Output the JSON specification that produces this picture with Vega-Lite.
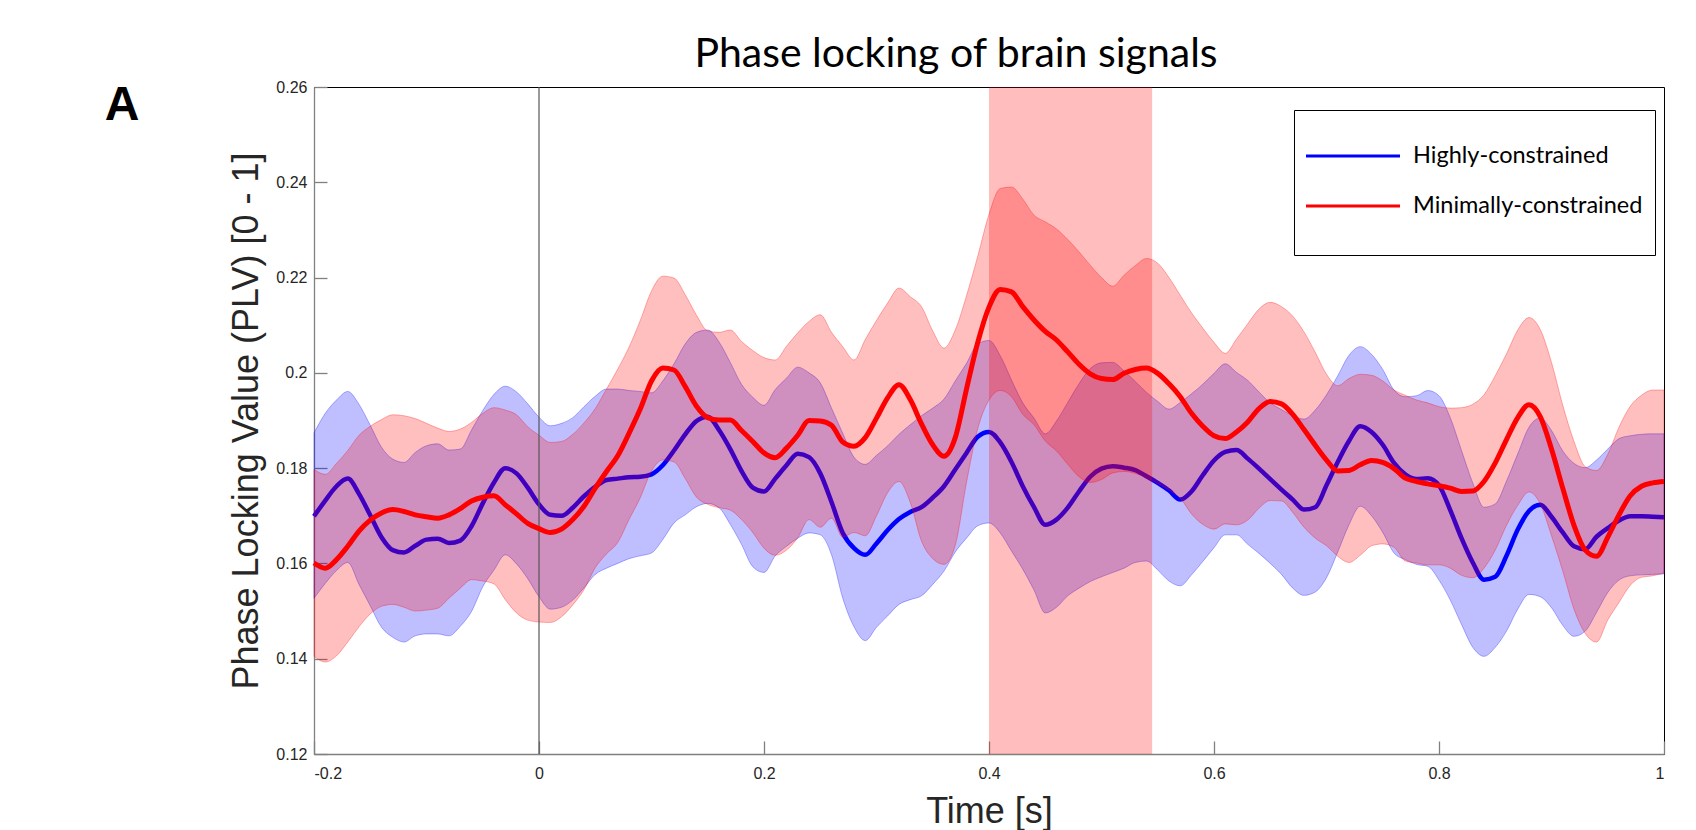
{
  "$schema": "https://vega.github.io/schema/vega-lite/v6.json",
  "width": 1350,
  "height": 667,
  "autosize": {"type": "none"},
  "padding": {"left": 314, "top": 87, "right": 32, "bottom": 76},
  "background": "#ffffff",
  "title": {
    "text": "Phase locking of brain signals",
    "font": "Lato",
    "fontSize": 41,
    "fontWeight": "normal",
    "color": "#000000",
    "anchor": "middle",
    "frame": "group",
    "baseline": "alphabetic",
    "offset": 11,
    "dx": -33,
    "dy": 40
  },
  "config": {
    "view": {"stroke": "#000000", "strokeWidth": 1},
    "axis": {
      "grid": false,
      "labelFont": "Liberation Sans",
      "labelFontSize": 16,
      "labelColor": "#262626",
      "titleFont": "Liberation Sans",
      "titleFontSize": 36,
      "titleFontWeight": "normal",
      "titleColor": "#262626",
      "domainColor": "#808080",
      "domainWidth": 1.3,
      "tickColor": "#808080",
      "tickWidth": 1.3,
      "tickSize": -13
    }
  },
  "datasets": {
    "curves": [
      {"t": -0.2, "hm": 0.1699, "hl": 0.1527, "hu": 0.1874, "mm": 0.1601, "ml": 0.1405, "mu": 0.1797},
      {"t": -0.19, "hm": 0.1732, "hl": 0.1558, "hu": 0.1915, "mm": 0.159, "ml": 0.1393, "mu": 0.1787},
      {"t": -0.18, "hm": 0.1762, "hl": 0.1585, "hu": 0.1943, "mm": 0.1608, "ml": 0.1406, "mu": 0.181},
      {"t": -0.17, "hm": 0.1778, "hl": 0.1602, "hu": 0.1961, "mm": 0.1636, "ml": 0.1435, "mu": 0.1837},
      {"t": -0.16, "hm": 0.1746, "hl": 0.1556, "hu": 0.1934, "mm": 0.1668, "ml": 0.1467, "mu": 0.1869},
      {"t": -0.15, "hm": 0.1701, "hl": 0.1511, "hu": 0.189, "mm": 0.1691, "ml": 0.1494, "mu": 0.1888},
      {"t": -0.14, "hm": 0.1655, "hl": 0.1466, "hu": 0.1844, "mm": 0.1706, "ml": 0.151, "mu": 0.1902},
      {"t": -0.13, "hm": 0.1628, "hl": 0.1445, "hu": 0.1819, "mm": 0.1713, "ml": 0.1514, "mu": 0.1912},
      {"t": -0.12, "hm": 0.1623, "hl": 0.1435, "hu": 0.1812, "mm": 0.1709, "ml": 0.1508, "mu": 0.191},
      {"t": -0.11, "hm": 0.1637, "hl": 0.1448, "hu": 0.1833, "mm": 0.1702, "ml": 0.15, "mu": 0.1904},
      {"t": -0.1, "hm": 0.165, "hl": 0.1452, "hu": 0.1847, "mm": 0.1698, "ml": 0.1502, "mu": 0.1894},
      {"t": -0.09, "hm": 0.1652, "hl": 0.1452, "hu": 0.1851, "mm": 0.1695, "ml": 0.1506, "mu": 0.1884},
      {"t": -0.08, "hm": 0.1643, "hl": 0.1448, "hu": 0.1838, "mm": 0.1702, "ml": 0.1527, "mu": 0.1877},
      {"t": -0.07, "hm": 0.1648, "hl": 0.1468, "hu": 0.184, "mm": 0.1715, "ml": 0.1548, "mu": 0.1882},
      {"t": -0.06, "hm": 0.1678, "hl": 0.1499, "hu": 0.188, "mm": 0.1731, "ml": 0.1566, "mu": 0.1896},
      {"t": -0.05, "hm": 0.1726, "hl": 0.1551, "hu": 0.1921, "mm": 0.1739, "ml": 0.1563, "mu": 0.1915},
      {"t": -0.04, "hm": 0.177, "hl": 0.1586, "hu": 0.1955, "mm": 0.1742, "ml": 0.1557, "mu": 0.1927},
      {"t": -0.03, "hm": 0.18, "hl": 0.1618, "hu": 0.1972, "mm": 0.1723, "ml": 0.1524, "mu": 0.1922},
      {"t": -0.02, "hm": 0.1789, "hl": 0.1599, "hu": 0.196, "mm": 0.1704, "ml": 0.1496, "mu": 0.1912},
      {"t": -0.01, "hm": 0.1759, "hl": 0.1568, "hu": 0.1935, "mm": 0.1684, "ml": 0.1481, "mu": 0.1887},
      {"t": 0.0, "hm": 0.1724, "hl": 0.153, "hu": 0.1907, "mm": 0.1673, "ml": 0.1477, "mu": 0.1869},
      {"t": 0.01, "hm": 0.1702, "hl": 0.1504, "hu": 0.1889, "mm": 0.1665, "ml": 0.1476, "mu": 0.1854},
      {"t": 0.02, "hm": 0.17, "hl": 0.1508, "hu": 0.1894, "mm": 0.1672, "ml": 0.1488, "mu": 0.1856},
      {"t": 0.03, "hm": 0.1717, "hl": 0.1523, "hu": 0.1906, "mm": 0.1692, "ml": 0.1513, "mu": 0.1871},
      {"t": 0.04, "hm": 0.1741, "hl": 0.1549, "hu": 0.1929, "mm": 0.172, "ml": 0.1545, "mu": 0.1895},
      {"t": 0.05, "hm": 0.1761, "hl": 0.1577, "hu": 0.1951, "mm": 0.1758, "ml": 0.1591, "mu": 0.1925},
      {"t": 0.06, "hm": 0.1775, "hl": 0.159, "hu": 0.1966, "mm": 0.1793, "ml": 0.162, "mu": 0.1966},
      {"t": 0.07, "hm": 0.1778, "hl": 0.16, "hu": 0.1966, "mm": 0.1826, "ml": 0.1644, "mu": 0.2008},
      {"t": 0.08, "hm": 0.1781, "hl": 0.161, "hu": 0.1963, "mm": 0.1873, "ml": 0.1692, "mu": 0.2054},
      {"t": 0.09, "hm": 0.1782, "hl": 0.1616, "hu": 0.1961, "mm": 0.1924, "ml": 0.1738, "mu": 0.211},
      {"t": 0.1, "hm": 0.1787, "hl": 0.1622, "hu": 0.1958, "mm": 0.1983, "ml": 0.1794, "mu": 0.2172},
      {"t": 0.11, "hm": 0.1806, "hl": 0.165, "hu": 0.1983, "mm": 0.201, "ml": 0.1817, "mu": 0.2203},
      {"t": 0.12, "hm": 0.1837, "hl": 0.1685, "hu": 0.2019, "mm": 0.2006, "ml": 0.1813, "mu": 0.2199},
      {"t": 0.13, "hm": 0.1871, "hl": 0.1702, "hu": 0.2061, "mm": 0.1971, "ml": 0.1778, "mu": 0.2164},
      {"t": 0.14, "hm": 0.1899, "hl": 0.1719, "hu": 0.2085, "mm": 0.193, "ml": 0.1739, "mu": 0.2121},
      {"t": 0.15, "hm": 0.1908, "hl": 0.1726, "hu": 0.209, "mm": 0.1906, "ml": 0.1724, "mu": 0.2088},
      {"t": 0.16, "hm": 0.188, "hl": 0.1717, "hu": 0.2065, "mm": 0.1901, "ml": 0.1717, "mu": 0.2085},
      {"t": 0.17, "hm": 0.184, "hl": 0.1682, "hu": 0.2022, "mm": 0.1901, "ml": 0.1712, "mu": 0.209},
      {"t": 0.18, "hm": 0.1794, "hl": 0.164, "hu": 0.1976, "mm": 0.1879, "ml": 0.1692, "mu": 0.2066},
      {"t": 0.19, "hm": 0.1759, "hl": 0.1593, "hu": 0.1949, "mm": 0.1856, "ml": 0.1665, "mu": 0.2047},
      {"t": 0.2, "hm": 0.1751, "hl": 0.1581, "hu": 0.1932, "mm": 0.1832, "ml": 0.1632, "mu": 0.2032},
      {"t": 0.21, "hm": 0.1778, "hl": 0.1616, "hu": 0.1965, "mm": 0.1822, "ml": 0.1617, "mu": 0.2027},
      {"t": 0.22, "hm": 0.1806, "hl": 0.1636, "hu": 0.1989, "mm": 0.1842, "ml": 0.1628, "mu": 0.2056},
      {"t": 0.23, "hm": 0.183, "hl": 0.1653, "hu": 0.2012, "mm": 0.1869, "ml": 0.1654, "mu": 0.2084},
      {"t": 0.24, "hm": 0.1823, "hl": 0.1664, "hu": 0.2, "mm": 0.19, "ml": 0.1692, "mu": 0.2108},
      {"t": 0.25, "hm": 0.1789, "hl": 0.166, "hu": 0.1979, "mm": 0.1899, "ml": 0.1676, "mu": 0.2122},
      {"t": 0.26, "hm": 0.1729, "hl": 0.1618, "hu": 0.1926, "mm": 0.189, "ml": 0.1695, "mu": 0.2085},
      {"t": 0.27, "hm": 0.1664, "hl": 0.1527, "hu": 0.1873, "mm": 0.1855, "ml": 0.1655, "mu": 0.2055},
      {"t": 0.28, "hm": 0.1632, "hl": 0.1467, "hu": 0.1823, "mm": 0.1846, "ml": 0.1665, "mu": 0.2027},
      {"t": 0.29, "hm": 0.1618, "hl": 0.1438, "hu": 0.1808, "mm": 0.1864, "ml": 0.1658, "mu": 0.207},
      {"t": 0.3, "hm": 0.1642, "hl": 0.1466, "hu": 0.1827, "mm": 0.1905, "ml": 0.17, "mu": 0.211},
      {"t": 0.31, "hm": 0.167, "hl": 0.149, "hu": 0.1847, "mm": 0.1948, "ml": 0.1749, "mu": 0.2147},
      {"t": 0.32, "hm": 0.1693, "hl": 0.1514, "hu": 0.1871, "mm": 0.1975, "ml": 0.1772, "mu": 0.2178},
      {"t": 0.33, "hm": 0.1708, "hl": 0.1524, "hu": 0.1891, "mm": 0.1944, "ml": 0.1728, "mu": 0.216},
      {"t": 0.34, "hm": 0.1718, "hl": 0.1532, "hu": 0.191, "mm": 0.1893, "ml": 0.1647, "mu": 0.2139},
      {"t": 0.35, "hm": 0.1738, "hl": 0.1556, "hu": 0.1926, "mm": 0.1849, "ml": 0.161, "mu": 0.2088},
      {"t": 0.36, "hm": 0.1762, "hl": 0.1584, "hu": 0.1945, "mm": 0.1825, "ml": 0.1598, "mu": 0.2052},
      {"t": 0.37, "hm": 0.1797, "hl": 0.1624, "hu": 0.1983, "mm": 0.1864, "ml": 0.1638, "mu": 0.209},
      {"t": 0.38, "hm": 0.1832, "hl": 0.1653, "hu": 0.202, "mm": 0.1966, "ml": 0.177, "mu": 0.2162},
      {"t": 0.39, "hm": 0.1866, "hl": 0.1679, "hu": 0.2061, "mm": 0.2064, "ml": 0.1883, "mu": 0.2245},
      {"t": 0.4, "hm": 0.1876, "hl": 0.1685, "hu": 0.2068, "mm": 0.2138, "ml": 0.1943, "mu": 0.2333},
      {"t": 0.41, "hm": 0.1854, "hl": 0.1664, "hu": 0.2036, "mm": 0.2175, "ml": 0.1963, "mu": 0.2387},
      {"t": 0.42, "hm": 0.1813, "hl": 0.1626, "hu": 0.1985, "mm": 0.217, "ml": 0.195, "mu": 0.239},
      {"t": 0.43, "hm": 0.1762, "hl": 0.1588, "hu": 0.1937, "mm": 0.2139, "ml": 0.1913, "mu": 0.2365},
      {"t": 0.44, "hm": 0.1718, "hl": 0.1544, "hu": 0.1905, "mm": 0.2111, "ml": 0.1891, "mu": 0.2331},
      {"t": 0.45, "hm": 0.1681, "hl": 0.1496, "hu": 0.1872, "mm": 0.2087, "ml": 0.1857, "mu": 0.2317},
      {"t": 0.46, "hm": 0.1692, "hl": 0.1508, "hu": 0.1899, "mm": 0.2069, "ml": 0.1836, "mu": 0.2302},
      {"t": 0.47, "hm": 0.1717, "hl": 0.1532, "hu": 0.1938, "mm": 0.2044, "ml": 0.1808, "mu": 0.228},
      {"t": 0.48, "hm": 0.1751, "hl": 0.1548, "hu": 0.1977, "mm": 0.2018, "ml": 0.1782, "mu": 0.2254},
      {"t": 0.49, "hm": 0.1782, "hl": 0.1562, "hu": 0.2009, "mm": 0.1998, "ml": 0.177, "mu": 0.2226},
      {"t": 0.5, "hm": 0.1799, "hl": 0.1572, "hu": 0.2021, "mm": 0.1988, "ml": 0.1776, "mu": 0.22},
      {"t": 0.51, "hm": 0.1804, "hl": 0.1581, "hu": 0.2022, "mm": 0.1986, "ml": 0.179, "mu": 0.2182},
      {"t": 0.52, "hm": 0.1801, "hl": 0.159, "hu": 0.2004, "mm": 0.1999, "ml": 0.1793, "mu": 0.2205},
      {"t": 0.53, "hm": 0.1796, "hl": 0.1602, "hu": 0.1982, "mm": 0.2007, "ml": 0.1789, "mu": 0.2225},
      {"t": 0.54, "hm": 0.1783, "hl": 0.1605, "hu": 0.1959, "mm": 0.201, "ml": 0.178, "mu": 0.224},
      {"t": 0.55, "hm": 0.1769, "hl": 0.1586, "hu": 0.194, "mm": 0.1999, "ml": 0.1768, "mu": 0.223},
      {"t": 0.56, "hm": 0.1753, "hl": 0.1563, "hu": 0.1924, "mm": 0.1977, "ml": 0.1754, "mu": 0.22},
      {"t": 0.57, "hm": 0.1734, "hl": 0.1553, "hu": 0.1938, "mm": 0.195, "ml": 0.1737, "mu": 0.2163},
      {"t": 0.58, "hm": 0.1751, "hl": 0.1576, "hu": 0.1956, "mm": 0.1915, "ml": 0.1704, "mu": 0.2126},
      {"t": 0.59, "hm": 0.1785, "hl": 0.1604, "hu": 0.1976, "mm": 0.1888, "ml": 0.1682, "mu": 0.2094},
      {"t": 0.6, "hm": 0.1816, "hl": 0.1633, "hu": 0.1999, "mm": 0.1868, "ml": 0.1672, "mu": 0.2064},
      {"t": 0.61, "hm": 0.1834, "hl": 0.166, "hu": 0.2019, "mm": 0.1862, "ml": 0.1683, "mu": 0.2041},
      {"t": 0.62, "hm": 0.1838, "hl": 0.166, "hu": 0.2001, "mm": 0.1876, "ml": 0.1681, "mu": 0.2071},
      {"t": 0.63, "hm": 0.182, "hl": 0.164, "hu": 0.1984, "mm": 0.1897, "ml": 0.1691, "mu": 0.2103},
      {"t": 0.64, "hm": 0.1799, "hl": 0.1621, "hu": 0.196, "mm": 0.1925, "ml": 0.1716, "mu": 0.2134},
      {"t": 0.65, "hm": 0.1777, "hl": 0.16, "hu": 0.1937, "mm": 0.194, "ml": 0.1732, "mu": 0.2148},
      {"t": 0.66, "hm": 0.1755, "hl": 0.1577, "hu": 0.1923, "mm": 0.1935, "ml": 0.1731, "mu": 0.2139},
      {"t": 0.67, "hm": 0.1734, "hl": 0.1548, "hu": 0.191, "mm": 0.1913, "ml": 0.1707, "mu": 0.2119},
      {"t": 0.68, "hm": 0.1713, "hl": 0.1533, "hu": 0.1903, "mm": 0.1881, "ml": 0.1676, "mu": 0.2086},
      {"t": 0.69, "hm": 0.1718, "hl": 0.154, "hu": 0.1922, "mm": 0.1848, "ml": 0.1653, "mu": 0.2043},
      {"t": 0.7, "hm": 0.1764, "hl": 0.157, "hu": 0.1954, "mm": 0.1817, "ml": 0.1637, "mu": 0.1997},
      {"t": 0.71, "hm": 0.1813, "hl": 0.1624, "hu": 0.1994, "mm": 0.1794, "ml": 0.1615, "mu": 0.1973},
      {"t": 0.72, "hm": 0.1857, "hl": 0.1681, "hu": 0.2037, "mm": 0.1795, "ml": 0.1602, "mu": 0.1988},
      {"t": 0.73, "hm": 0.1888, "hl": 0.172, "hu": 0.2055, "mm": 0.1807, "ml": 0.1617, "mu": 0.1997},
      {"t": 0.74, "hm": 0.1876, "hl": 0.17, "hu": 0.2039, "mm": 0.1816, "ml": 0.1637, "mu": 0.1995},
      {"t": 0.75, "hm": 0.1849, "hl": 0.1665, "hu": 0.2007, "mm": 0.1812, "ml": 0.1641, "mu": 0.1983},
      {"t": 0.76, "hm": 0.1811, "hl": 0.1622, "hu": 0.1964, "mm": 0.1799, "ml": 0.1634, "mu": 0.1964},
      {"t": 0.77, "hm": 0.1787, "hl": 0.1608, "hu": 0.195, "mm": 0.1779, "ml": 0.1605, "mu": 0.1953},
      {"t": 0.78, "hm": 0.1777, "hl": 0.1598, "hu": 0.1952, "mm": 0.1772, "ml": 0.1601, "mu": 0.1943},
      {"t": 0.79, "hm": 0.1779, "hl": 0.1594, "hu": 0.1963, "mm": 0.1767, "ml": 0.1597, "mu": 0.1937},
      {"t": 0.8, "hm": 0.1764, "hl": 0.1565, "hu": 0.1952, "mm": 0.1763, "ml": 0.1597, "mu": 0.1929},
      {"t": 0.81, "hm": 0.1712, "hl": 0.1523, "hu": 0.1906, "mm": 0.1758, "ml": 0.159, "mu": 0.1926},
      {"t": 0.82, "hm": 0.1653, "hl": 0.1472, "hu": 0.1837, "mm": 0.1751, "ml": 0.1575, "mu": 0.1927},
      {"t": 0.83, "hm": 0.1602, "hl": 0.1424, "hu": 0.1769, "mm": 0.1752, "ml": 0.157, "mu": 0.1934},
      {"t": 0.84, "hm": 0.1566, "hl": 0.1405, "hu": 0.1718, "mm": 0.1772, "ml": 0.159, "mu": 0.1954},
      {"t": 0.85, "hm": 0.1572, "hl": 0.1424, "hu": 0.1725, "mm": 0.1811, "ml": 0.1628, "mu": 0.1994},
      {"t": 0.86, "hm": 0.1616, "hl": 0.1458, "hu": 0.1773, "mm": 0.186, "ml": 0.168, "mu": 0.204},
      {"t": 0.87, "hm": 0.1671, "hl": 0.1504, "hu": 0.183, "mm": 0.1906, "ml": 0.1722, "mu": 0.209},
      {"t": 0.88, "hm": 0.171, "hl": 0.1535, "hu": 0.1886, "mm": 0.1933, "ml": 0.175, "mu": 0.2116},
      {"t": 0.89, "hm": 0.1723, "hl": 0.153, "hu": 0.1905, "mm": 0.1908, "ml": 0.1725, "mu": 0.2091},
      {"t": 0.9, "hm": 0.1698, "hl": 0.1507, "hu": 0.1879, "mm": 0.184, "ml": 0.1658, "mu": 0.2022},
      {"t": 0.91, "hm": 0.1665, "hl": 0.147, "hu": 0.1836, "mm": 0.1758, "ml": 0.1584, "mu": 0.1932},
      {"t": 0.92, "hm": 0.1636, "hl": 0.1447, "hu": 0.181, "mm": 0.168, "ml": 0.1504, "mu": 0.1856},
      {"t": 0.93, "hm": 0.163, "hl": 0.1458, "hu": 0.1801, "mm": 0.1628, "ml": 0.1453, "mu": 0.1803},
      {"t": 0.94, "hm": 0.1656, "hl": 0.1497, "hu": 0.1817, "mm": 0.1615, "ml": 0.1435, "mu": 0.1795},
      {"t": 0.95, "hm": 0.1674, "hl": 0.1539, "hu": 0.184, "mm": 0.1655, "ml": 0.1481, "mu": 0.1829},
      {"t": 0.96, "hm": 0.169, "hl": 0.1565, "hu": 0.1862, "mm": 0.1702, "ml": 0.1518, "mu": 0.1886},
      {"t": 0.97, "hm": 0.1699, "hl": 0.1574, "hu": 0.1868, "mm": 0.1742, "ml": 0.1554, "mu": 0.193},
      {"t": 0.98, "hm": 0.1699, "hl": 0.1576, "hu": 0.1871, "mm": 0.1762, "ml": 0.1571, "mu": 0.1953},
      {"t": 0.99, "hm": 0.1698, "hl": 0.1577, "hu": 0.1872, "mm": 0.1769, "ml": 0.1574, "mu": 0.1964},
      {"t": 1.0, "hm": 0.1697, "hl": 0.1578, "hu": 0.1872, "mm": 0.1772, "ml": 0.158, "mu": 0.1964}
    ],
    "window": [{"start": 0.4, "end": 0.545}],
    "onset": [{"t": 0}],
    "panel": [{"label": "A"}]
  },
  "layer": [
    {
      "data": {"name": "curves"},
      "mark": {"type": "area", "interpolate": "monotone", "fill": "#0000ff", "fillOpacity": 0.25, "stroke": "#0000ff", "strokeOpacity": 0.3, "strokeWidth": 1},
      "encoding": {
        "x": {
          "field": "t", "type": "quantitative",
          "scale": {"domain": [-0.2, 1], "nice": false, "zero": false},
          "axis": {
            "title": "Time [s]",
            "values": [-0.2, 0, 0.2, 0.4, 0.6, 0.8, 1],
            "format": "~g",
            "labelExpr": "replace(datum.label, '\u2212', '-')",
            "labelPadding": 24,
            "titlePadding": 13
          }
        },
        "y": {
          "field": "hl", "type": "quantitative",
          "scale": {"domain": [0.12, 0.26], "nice": false, "zero": false},
          "axis": {
            "title": "Phase Locking Value (PLV) [0 - 1]",
            "values": [0.12, 0.14, 0.16, 0.18, 0.2, 0.22, 0.24, 0.26],
            "format": ".2~f",
            "labelPadding": 20,
            "titlePadding": 10
          }
        },
        "y2": {"field": "hu"}
      }
    },
    {
      "data": {"name": "curves"},
      "mark": {"type": "line", "interpolate": "monotone", "strokeWidth": 4.5},
      "encoding": {
        "x": {"field": "t", "type": "quantitative"},
        "y": {"field": "hm", "type": "quantitative"},
        "color": {
          "datum": "Highly-constrained",
          "type": "nominal",
          "scale": {"domain": ["Highly-constrained", "Minimally-constrained"], "range": ["#0000ff", "#ff0000"]},
          "legend": {
            "orient": "none",
            "legendX": 980,
            "legendY": 23,
            "title": " ",
            "titleFontSize": 14,
            "titlePadding": 7,
            "symbolType": "M-1.1304,0L7.0435,0",
            "symbolSize": 529,
            "symbolStrokeWidth": 3,
            "symbolOffset": 0,
            "labelFont": "Lato",
            "labelFontSize": 23.5,
            "labelColor": "#000000",
            "labelOffset": 81,
            "labelLimit": 400,
            "labelExpr": "[datum.label, '']",
            "rowPadding": 0,
            "padding": 12,
            "strokeColor": "#000000",
            "fillColor": "#ffffff"
          }
        }
      }
    },
    {
      "data": {"name": "curves"},
      "mark": {"type": "area", "interpolate": "monotone", "fill": "#ff0000", "fillOpacity": 0.25, "stroke": "#ff0000", "strokeOpacity": 0.3, "strokeWidth": 1},
      "encoding": {
        "x": {"field": "t", "type": "quantitative"},
        "y": {"field": "ml", "type": "quantitative"},
        "y2": {"field": "mu"}
      }
    },
    {
      "data": {"name": "window"},
      "mark": {"type": "rect", "fill": "#ff0000", "fillOpacity": 0.26},
      "encoding": {
        "x": {"field": "start", "type": "quantitative"},
        "x2": {"field": "end"}
      }
    },
    {
      "data": {"name": "onset"},
      "mark": {"type": "rule", "color": "#555555", "strokeWidth": 1.2},
      "encoding": {
        "x": {"field": "t", "type": "quantitative"}
      }
    },
    {
      "data": {"name": "curves"},
      "mark": {"type": "line", "interpolate": "monotone", "strokeWidth": 5},
      "encoding": {
        "x": {"field": "t", "type": "quantitative"},
        "y": {"field": "mm", "type": "quantitative"},
        "color": {"datum": "Minimally-constrained", "type": "nominal"}
      }
    },
    {
      "data": {"name": "panel"},
      "mark": {"type": "text", "font": "Liberation Sans", "fontSize": 48, "fontWeight": "bold", "align": "center", "baseline": "middle", "color": "#000000"},
      "encoding": {
        "text": {"field": "label"},
        "x": {"datum": -0.3707},
        "y": {"datum": 0.2561}
      }
    }
  ]
}
